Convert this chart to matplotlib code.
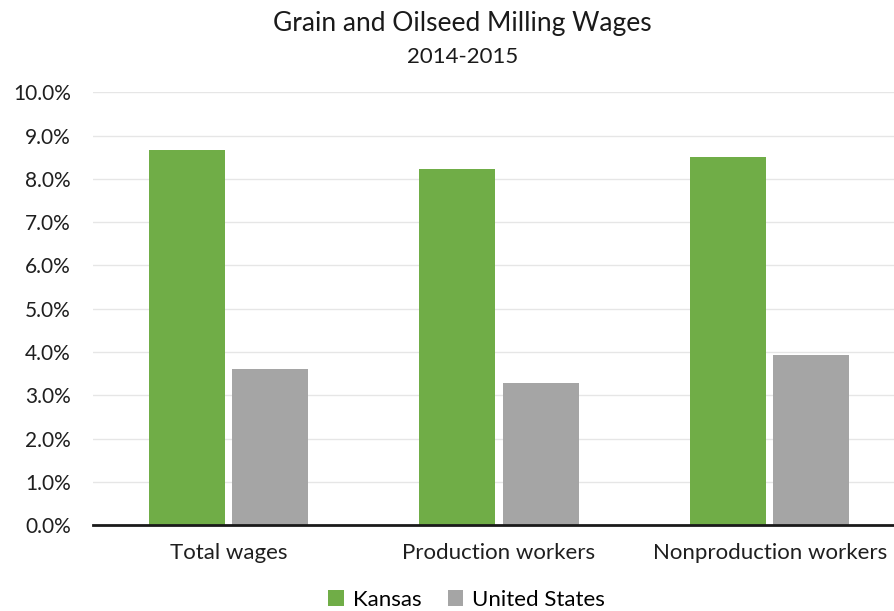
import matplotlib.pyplot as plt
import numpy as np
from matplotlib.ticker import FuncFormatter

categories = ['Total wages', 'Production workers', 'Nonproduction workers']
kansas = [8.67, 8.23, 8.50]
united_states = [3.62, 3.28, 3.94]
series_names = ['Kansas', 'United States']

plt.rcParams['font.family'] = ['Lato', 'DejaVu Sans']

fig = plt.figure(figsize=(8.94, 6.11), dpi=100)
ax = fig.add_axes([0.104, 0.1403, 0.9083, 0.7087])

x = np.arange(len(categories))
width = 0.281
ax.bar(x - 0.154, kansas, width, color='#70AD47', label=series_names[0], zorder=3)
ax.bar(x + 0.154, united_states, width, color='#A5A5A5', label=series_names[1], zorder=3)

ax.set_xlim(-0.5, 2.5)
ax.set_ylim(0, 10)
ax.set_yticks(np.arange(0, 10.5, 1))
ax.yaxis.set_major_formatter(FuncFormatter(lambda v, p: f'{v:.1f}%'))
ax.set_xticks(x)
ax.set_xticklabels(categories, fontsize=16)
ax.tick_params(axis='both', length=0, colors='#1f1f1f')
ax.tick_params(axis='y', labelsize=15, pad=16)
ax.tick_params(axis='x', pad=13)
ax.grid(axis='y', color='#E6E6E6', linewidth=1, zorder=0)
for s in ['top', 'right', 'left']:
    ax.spines[s].set_visible(False)
ax.spines['bottom'].set_color('#1a1a1a')
ax.spines['bottom'].set_linewidth(2)
ax.spines['bottom'].set_zorder(4)

fig.text(0.517, 0.962, 'Grain and Oilseed Milling Wages', ha='center', va='center',
         fontsize=19, color='#1a1a1a')
fig.text(0.517, 0.906, '2014-2015', ha='center', va='center',
         fontsize=16, color='#1a1a1a')

fig.legend(loc='center', bbox_to_anchor=(0.522, 0.018), ncol=2, frameon=False,
           fontsize=16, handlelength=0.7, handleheight=0.7, handletextpad=0.4,
           columnspacing=1.2)

fig.savefig('out.png', dpi=100)
